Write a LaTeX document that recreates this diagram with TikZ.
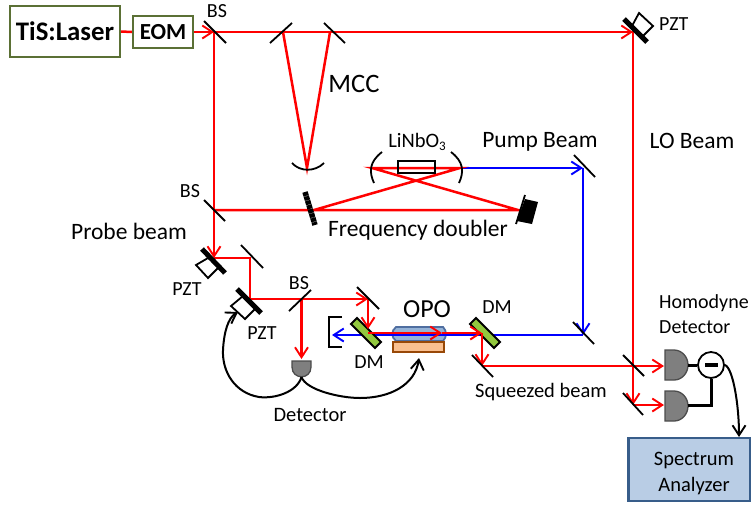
\documentclass[tikz,border=0pt]{standalone}
\usepackage{fontspec}
\setmainfont{Carlito}
\usetikzlibrary{arrows.meta,calc}
\definecolor{beamred}{HTML}{FF0000}
\definecolor{beamblue}{HTML}{0000FF}
\definecolor{olivebox}{HTML}{5B7035}
\definecolor{dmgreen}{HTML}{92C83E}
\definecolor{detgray}{HTML}{7F7F7F}
\definecolor{opoblue}{HTML}{95B3D7}
\definecolor{opoedge}{HTML}{4F6EA0}
\definecolor{opoorange}{HTML}{FAC090}
\definecolor{opobrown}{HTML}{984807}
\definecolor{specfill}{HTML}{B9CDE5}
\definecolor{specedge}{HTML}{385D8A}
\tikzset{
  barb/.tip={Straight Barb[length=10pt,width=13pt,line width=1.9pt]},
  redbeam/.style={draw=beamred,line width=2.5pt},
  bluebeam/.style={draw=beamblue,line width=2.5pt},
  mirror/.style={draw=black,line width=1.8pt},
  thickmirror/.style={draw=black,line width=5pt},
  roughmirror/.style={draw=black,line width=5.5pt,dash pattern=on 4pt off 0.5pt},
  pztbox/.style={draw=black,line width=1.8pt,fill=white},
  dmirror/.style={draw=black,line width=1.8pt,fill=dmgreen},
  detector/.style={draw=black!70,line width=1.3pt,fill=detgray},
  wire/.style={draw=black,line width=2pt},
  hwire/.style={draw=black,line width=3pt},
  labelbig/.style={font=\fontsize{23.5}{26}\selectfont,inner sep=0pt},
  labelmid/.style={font=\fontsize{20.5}{24}\selectfont,inner sep=0pt},
  labelsm/.style={font=\fontsize{20}{24}\selectfont,inner sep=0pt},
}
\begin{document}
\begin{tikzpicture}[x=1pt,y=-1pt]
\useasboundingbox (0,0) rectangle (751,504);
% nodes / boxes
\node[draw=olivebox,line width=2.2pt,minimum width=110pt,minimum height=51pt,inner sep=0pt,font=\fontsize{26.8}{30}\selectfont\bfseries] (laser) at (65,31.5) {TiS:Laser};
\node[draw=olivebox,line width=2.2pt,minimum width=60pt,minimum height=32pt,inner sep=0pt,font=\fontsize{23}{26}\selectfont\bfseries] (eom) at (163,32) {EOM};
\node[draw=specedge,line width=2.2pt,fill=specfill,minimum width=122pt,minimum height=63pt,inner sep=0pt] (spec) at (689.5,469.5) {};
\node[inner sep=0pt,align=center,font=\fontsize{20.5}{26}\selectfont] (spectxt) at (694,473) {Spectrum\\Analyzer};
% beam points
\coordinate (bs1) at (214,32);
\coordinate (m1) at (283,32);
\coordinate (m2) at (330,32);
\coordinate (cm) at (307,168);
\coordinate (lopzt) at (633,32);
\coordinate (bs2) at (214,210);
\coordinate (rough) at (314,210);
\coordinate (block) at (518,210);
\coordinate (shgl) at (372,168);
\coordinate (shgr) at (460,168);
\coordinate (pm1) at (583,168);
\coordinate (pm2) at (583,335);
\coordinate (pz1) at (214,258);
\coordinate (m3) at (250,258);
\coordinate (pz2) at (250,299);
\coordinate (bs3) at (301.5,299);
\coordinate (m4) at (368,299);
\coordinate (dml) at (368,333);
\coordinate (dmr) at (482,333);
\coordinate (m5) at (482,366);
\coordinate (hm1) at (633,366);
\coordinate (hm2) at (633,405);
\coordinate (opoc) at (442,333);
\coordinate (bkt) at (332,335);
% detectors
\path[detector] (292,361) -- (311,361) -- (311,367) .. controls (311,380) and (292,380) .. (292,367) -- cycle;
\coordinate (det) at (301.5,377);
\path[detector] (665,350) -- (674,350) arc[start angle=90,end angle=-90,x radius=14,y radius=-15] -- (665,380) -- cycle;
\path[detector] (665,391) -- (674,391) arc[start angle=90,end angle=-90,x radius=14,y radius=-15] -- (665,421) -- cycle;
% OPO
\path[draw=opoedge,line width=1.8pt,fill=opoblue] (396,327) .. controls (391,331) and (391,337) .. (396,341) -- (443,341) .. controls (447,337) and (447,331) .. (443,327) -- cycle;
\node[draw=opobrown,line width=1.8pt,fill=opoorange,minimum width=51pt,minimum height=10pt,inner sep=0pt] (opocrystal) at (418.5,347) {};
% pump beam
\draw[bluebeam,-{barb}] (shgr) -- (pm1);
\draw[bluebeam,-{barb}] (pm1) -- (pm2);
\draw[bluebeam,-{barb}] (pm2) -- (bkt);
% dichroic mirrors
\path[dmirror] (357,318) -- (381,342) -- (375,348) -- (351,324) -- cycle;
\path[dmirror] (476,318) -- (500,342) -- (494,348) -- (470,324) -- cycle;
% red beams
\draw[redbeam] (laser.east) -- (eom.west);
\draw[redbeam,-{barb}] (eom.east) -- (bs1);
\draw[redbeam] (bs1) -- (lopzt);
\draw[redbeam] (m1) -- (cm) -- (m2);
\draw[redbeam] (bs1) -- (bs2);
\draw[redbeam,-{barb}] (bs2) -- (pz1);
\draw[redbeam] (bs2) -- (block) -- (shgl) -- (shgr) -- (rough);
\draw[redbeam] (pz1) -- (m3) -- (pz2) -- (bs3);
\draw[redbeam,-{barb}] (bs3) -- (m4);
\draw[redbeam,-{barb}] (m4) -- (368,329);
\draw[redbeam,-{barb}] (bs3) -- (301.5,359);
\draw[redbeam,-{barb}] (dml) -- (opoc);
\draw[redbeam,-{barb}] (opoc) -- (dmr);
\draw[redbeam,-{barb}] (dmr) -- (m5);
\draw[redbeam] (m5) -- (hm1);
\draw[redbeam,-{barb}] (hm1) -- (664,366);
\draw[redbeam,-{barb}] (lopzt) -- (hm2);
\draw[redbeam,-{barb}] (hm2) -- (664,405);
\draw[redbeam,-{barb}] (600,32) -- (lopzt);
% plain mirrors
\draw[mirror] (204,21) -- (226,43);
\draw[mirror] (270,43) -- (292,23);
\draw[mirror] (324,23) -- (345,43);
\draw[mirror] (204,200) -- (225,221);
\draw[mirror] (574,155) -- (595,177);
\draw[mirror] (573,322) -- (594,344);
\draw[mirror] (241,245) -- (263,268);
\draw[mirror] (289,311) -- (311,290);
\draw[mirror] (357,287) -- (379,309);
\draw[mirror] (472,355) -- (493,377);
\draw[mirror] (623,355) -- (644,376);
\draw[mirror] (623,393) -- (643,415);
% curved mirrors
\draw[mirror] (292,163) .. controls (300,172) and (315,172) .. (324,163);
\draw[mirror] (382,152) .. controls (369,162) and (369,172) .. (374,183);
\draw[mirror] (451,152) .. controls (464,162) and (464,172) .. (459,183);
\draw[mirror] (342,317) -- (329,317) -- (329,347) -- (342,347);
% rough mirror and block
\draw[roughmirror] (305,192) -- (315,225);
\draw[mirror] (525,195) -- (516,224);
\path[fill=black] (525,199) -- (538,202) -- (532,224) -- (517,221) -- cycle;
% crystal
\node[draw=black,line width=1.8pt,minimum width=37pt,minimum height=12pt,inner sep=0pt] (lnb) at (416.5,167) {};
% PZT mirrors
\path[pztbox] (632,26) -- (639,13) -- (653,26) -- (641,38) -- cycle;
\draw[thickmirror] (624,19) -- (647,42);
\path[pztbox] (208,258) -- (196,265) -- (208,278) -- (220,266) -- cycle;
\draw[thickmirror] (202,249) -- (225,273);
\path[pztbox] (243,296) -- (231,306) -- (245,319) -- (256,308) -- cycle;
\draw[thickmirror] (237,289) -- (261,313);
% homodyne
\node[circle,draw=black,line width=1.8pt,fill=white,minimum size=26pt,inner sep=0pt] (sub) at (711,365) {};
\draw[black,line width=3.2pt] (705,365) -- (718,365);
\draw[hwire] (688,365) -- (sub.west);
\draw[hwire] (688,405) -- (711,405) -- (sub.south);
\draw[wire,-{barb}] (sub.east) .. controls (733,368) and (739,405) .. (739,437);
% feedback wires
\draw[wire,-{barb}] (det) .. controls (297,392) and (275,399) .. (259,397) .. controls (235,393) and (222,372) .. (223,350) .. controls (224,332) and (228,318) .. (238,312);
\draw[wire,-{barb}] (det) .. controls (306,390) and (340,398) .. (360,398) .. controls (390,398) and (415,385) .. (419,358);
% labels
\node[labelsm] (bsa) at (217,11) {BS};
\node[labelsm] (bsb) at (190,191) {BS};
\node[labelsm] (bsc) at (299,283) {BS};
\node[font=\fontsize{26.6}{30}\selectfont,inner sep=0pt] (mcc) at (354,84) {MCC};
\node[labelmid] (lnbl) at (417,142) {LiNbO\raisebox{-3pt}{\fontsize{13}{14}\selectfont 3}};
\node[labelbig] (pump) at (540,142) {Pump Beam};
\node[labelbig] (lo) at (692,141) {LO Beam};
\node[labelbig] (fd) at (418,230) {Frequency doubler};
\node[labelbig] (probe) at (129,231) {Probe beam};
\node[labelsm,anchor=west] (pzta) at (659,24) {PZT};
\node[labelsm] (pztb) at (187,289) {PZT};
\node[labelsm] (pztc) at (262,333) {PZT};
\node[font=\fontsize{26}{30}\selectfont,inner sep=0pt] (opo) at (427,309) {OPO};
\node[labelsm] (dma) at (497,307) {DM};
\node[labelsm] (dmb) at (369,362) {DM};
\node[labelmid] (sq) at (541,392) {Squeezed beam};
\node[labelmid] (dt) at (310,415) {Detector};
\node[align=left,anchor=north west,inner sep=0pt,font=\fontsize{20}{25}\selectfont] (hd) at (659,294) {Homodyne\\Detector};
\end{tikzpicture}
\end{document}
